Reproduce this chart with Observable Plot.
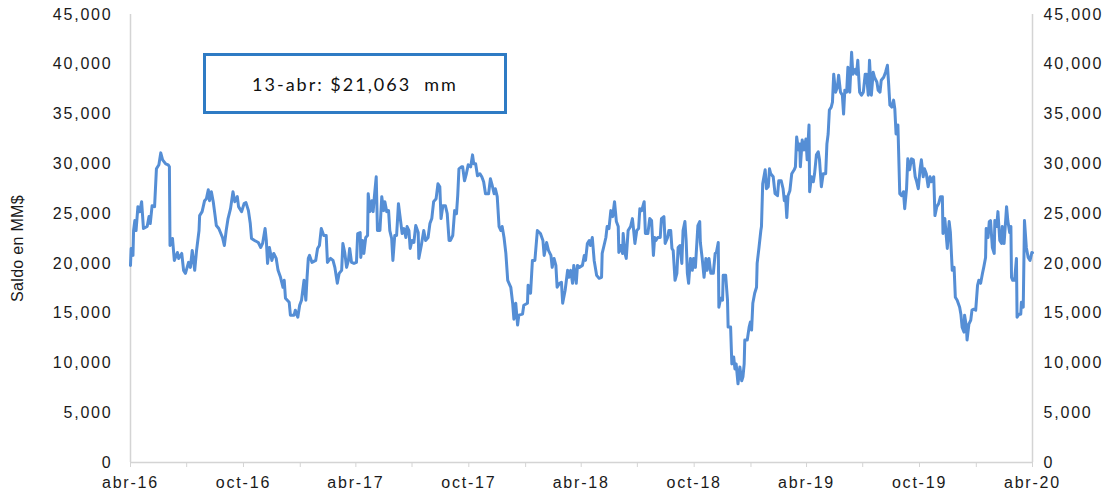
<!DOCTYPE html>
<html>
<head>
<meta charset="utf-8">
<script src="https://cdn.jsdelivr.net/npm/d3@7"></script>
<script src="https://cdn.jsdelivr.net/npm/@observablehq/plot@0.6"></script>
<style>
html, body { margin: 0; padding: 0; background: #fff; }
#wrap { position: relative; width: 1119px; height: 491px; }
#note {
  position: absolute; left: 203px; top: 53px; width: 304px; height: 61px;
  box-sizing: border-box; border: 3px solid #2E7BC4; background: #fff;
  font-family: Lato, "Open Sans", sans-serif; font-size: 18px; letter-spacing: 2px; color: #111;
  display: flex; align-items: center; justify-content: center; white-space: pre;
}
#wrap svg text { letter-spacing: 1.8px; }
#wrap svg g[aria-label="text"] text { letter-spacing: 0.3px; }
</style>
</head>
<body>
<div id="wrap"><div id="note"></div></div>
<script>
const fechas = [
"2016-04-01","2016-04-02","2016-04-05","2016-04-06","2016-04-08","2016-04-10","2016-04-13","2016-04-16","2016-04-19","2016-04-22","2016-04-28",
"2016-05-01","2016-05-03","2016-05-06","2016-05-10","2016-05-13","2016-05-17","2016-05-20","2016-05-23","2016-05-28",
"2016-06-01","2016-06-03","2016-06-04","2016-06-08","2016-06-11","2016-06-16","2016-06-18","2016-06-23","2016-06-26","2016-06-29",
"2016-07-04","2016-07-07","2016-07-10","2016-07-14","2016-07-17","2016-07-21","2016-07-22","2016-07-26","2016-07-30",
"2016-08-02","2016-08-05","2016-08-07","2016-08-10","2016-08-13","2016-08-16","2016-08-18","2016-08-22","2016-08-28","2016-08-31",
"2016-09-03","2016-09-06","2016-09-10","2016-09-14","2016-09-17","2016-09-21","2016-09-23","2016-09-28",
"2016-10-02","2016-10-05","2016-10-09","2016-10-12","2016-10-14","2016-10-19","2016-10-25","2016-10-29",
"2016-11-01","2016-11-05","2016-11-07","2016-11-09","2016-11-12","2016-11-16","2016-11-19","2016-11-23","2016-11-26","2016-11-30",
"2016-12-04","2016-12-06","2016-12-08","2016-12-14","2016-12-16","2016-12-22","2016-12-24","2016-12-28","2016-12-31",
"2017-01-03","2017-01-07","2017-01-10","2017-01-12","2017-01-14","2017-01-16","2017-01-20","2017-01-26","2017-01-29",
"2017-02-01","2017-02-04","2017-02-08","2017-02-12","2017-02-14","2017-02-19","2017-02-23","2017-02-26",
"2017-03-02","2017-03-05","2017-03-09","2017-03-11","2017-03-14","2017-03-17","2017-03-20","2017-03-22","2017-03-25","2017-03-29",
"2017-04-02","2017-04-04","2017-04-08","2017-04-09","2017-04-12","2017-04-14","2017-04-17","2017-04-20","2017-04-21","2017-04-24","2017-04-27","2017-04-29",
"2017-05-01","2017-05-04","2017-05-06","2017-05-10","2017-05-13","2017-05-16","2017-05-18","2017-05-21","2017-05-24","2017-05-26","2017-05-29","2017-05-31",
"2017-06-03","2017-06-06","2017-06-09","2017-06-11","2017-06-15","2017-06-18","2017-06-21","2017-06-23","2017-06-26","2017-06-28",
"2017-07-01","2017-07-04","2017-07-07","2017-07-11","2017-07-12","2017-07-16","2017-07-20","2017-07-23","2017-07-27","2017-07-30",
"2017-08-02","2017-08-05","2017-08-09","2017-08-12","2017-08-15","2017-08-17","2017-08-20","2017-08-24","2017-08-27","2017-08-30",
"2017-09-01","2017-09-05","2017-09-08","2017-09-11","2017-09-13","2017-09-15","2017-09-19","2017-09-21","2017-09-24","2017-09-27","2017-09-30",
"2017-10-04","2017-10-07","2017-10-09","2017-10-12","2017-10-15","2017-10-19","2017-10-22","2017-10-25","2017-10-28",
"2017-11-02","2017-11-05","2017-11-08","2017-11-11","2017-11-13","2017-11-16","2017-11-19","2017-11-22","2017-11-24","2017-11-27","2017-11-30",
"2017-12-03","2017-12-08","2017-12-11","2017-12-13","2017-12-16","2017-12-19","2017-12-21","2017-12-27","2017-12-29",
"2018-01-04","2018-01-05","2018-01-09","2018-01-12","2018-01-16","2018-01-20","2018-01-25","2018-01-29","2018-01-31",
"2018-02-04","2018-02-07","2018-02-11","2018-02-13","2018-02-16","2018-02-19","2018-02-21","2018-02-25","2018-02-28",
"2018-03-02","2018-03-06","2018-03-10","2018-03-12","2018-03-15","2018-03-18","2018-03-20","2018-03-24","2018-03-26","2018-03-29",
"2018-04-03","2018-04-06","2018-04-08","2018-04-11","2018-04-14","2018-04-16","2018-04-19","2018-04-22","2018-04-26","2018-04-30",
"2018-05-04","2018-05-05","2018-05-08","2018-05-11","2018-05-13","2018-05-16","2018-05-19","2018-05-22","2018-05-25","2018-05-28","2018-05-31",
"2018-06-01","2018-06-04","2018-06-07","2018-06-08","2018-06-11","2018-06-13","2018-06-16","2018-06-20","2018-06-23","2018-06-25","2018-06-27","2018-06-30",
"2018-07-03","2018-07-05","2018-07-08","2018-07-12","2018-07-14","2018-07-18","2018-07-21","2018-07-24","2018-07-27","2018-07-29","2018-07-31",
"2018-08-03","2018-08-07","2018-08-09","2018-08-13","2018-08-15","2018-08-19","2018-08-21","2018-08-24","2018-08-26","2018-08-28","2018-08-31",
"2018-09-03","2018-09-05","2018-09-08","2018-09-11","2018-09-13","2018-09-16","2018-09-18","2018-09-20","2018-09-22","2018-09-25","2018-09-28","2018-09-30",
"2018-10-03","2018-10-07","2018-10-10","2018-10-11","2018-10-14","2018-10-17","2018-10-20","2018-10-22","2018-10-25","2018-10-28",
"2018-11-01","2018-11-04","2018-11-06","2018-11-09","2018-11-10","2018-11-13","2018-11-16","2018-11-17","2018-11-21","2018-11-24","2018-11-25","2018-11-29",
"2018-12-01","2018-12-04","2018-12-06","2018-12-08","2018-12-11","2018-12-14","2018-12-17","2018-12-19","2018-12-21","2018-12-22","2018-12-26","2018-12-29","2018-12-31",
"2019-01-02","2019-01-04","2019-01-07","2019-01-10","2019-01-11","2019-01-14","2019-01-17","2019-01-18","2019-01-20","2019-01-24","2019-01-26","2019-01-29","2019-01-31",
"2019-02-02","2019-02-06","2019-02-09","2019-02-13","2019-02-15","2019-02-19","2019-02-22","2019-02-24","2019-02-26","2019-02-28",
"2019-03-02","2019-03-05","2019-03-08","2019-03-12","2019-03-14","2019-03-16","2019-03-19","2019-03-21","2019-03-22","2019-03-25","2019-03-28","2019-03-31",
"2019-04-02","2019-04-05","2019-04-06","2019-04-09","2019-04-12","2019-04-14","2019-04-17","2019-04-20","2019-04-22","2019-04-25","2019-04-28",
"2019-05-02","2019-05-04","2019-05-06","2019-05-08","2019-05-11","2019-05-13","2019-05-15","2019-05-18","2019-05-21","2019-05-23","2019-05-26","2019-05-29","2019-05-31",
"2019-06-02","2019-06-05","2019-06-07","2019-06-10","2019-06-13","2019-06-15","2019-06-19","2019-06-21","2019-06-23","2019-06-26","2019-06-29",
"2019-07-02","2019-07-05","2019-07-07","2019-07-10","2019-07-12","2019-07-15","2019-07-18","2019-07-20","2019-07-24","2019-07-26","2019-07-29","2019-07-31",
"2019-08-04","2019-08-07","2019-08-10","2019-08-12","2019-08-14","2019-08-17","2019-08-20","2019-08-22","2019-08-24","2019-08-27","2019-08-30",
"2019-09-02","2019-09-05","2019-09-07","2019-09-10","2019-09-12","2019-09-15","2019-09-18","2019-09-21","2019-09-24","2019-09-26","2019-09-29",
"2019-10-02","2019-10-04","2019-10-07","2019-10-09","2019-10-12","2019-10-15","2019-10-18","2019-10-20","2019-10-24","2019-10-26","2019-10-29",
"2019-11-01","2019-11-04","2019-11-07","2019-11-08","2019-11-11","2019-11-13","2019-11-15","2019-11-18","2019-11-20","2019-11-23","2019-11-26","2019-11-28",
"2019-12-01","2019-12-05","2019-12-07","2019-12-09","2019-12-12","2019-12-13","2019-12-16","2019-12-17","2019-12-20","2019-12-23","2019-12-25","2019-12-28","2019-12-31",
"2020-01-03","2020-01-05","2020-01-08","2020-01-11","2020-01-13","2020-01-16","2020-01-17","2020-01-20","2020-01-22","2020-01-24","2020-01-27","2020-01-30","2020-01-31",
"2020-02-03","2020-02-05","2020-02-08","2020-02-11","2020-02-12","2020-02-15","2020-02-19","2020-02-21","2020-02-24","2020-02-26","2020-02-27","2020-02-29",
"2020-03-03","2020-03-06","2020-03-07","2020-03-10","2020-03-13","2020-03-14","2020-03-17","2020-03-19","2020-03-22","2020-03-25","2020-03-28","2020-03-31","2020-04-01"
];
const saldo = [
19800,21500,20800,23300,24300,23300,25700,25200,26200,23500,23700,
24700,24000,25800,25700,29500,29900,31100,30400,30000,
29900,29700,21800,22500,20300,21100,20500,21000,19300,19000,
20100,19600,21300,19300,21300,23300,24800,25200,26300,
26500,27400,26300,27200,26200,24800,23800,23500,22600,21800,
23300,24500,25500,27200,26200,26700,25700,25200,
26000,26100,25300,24000,22500,22300,22100,21600,
22000,23500,22300,20000,21600,20300,21000,20500,19300,18600,
17600,18300,16500,16100,14800,14800,15300,14600,15800,
16300,18300,16300,18600,20500,20800,20100,20300,21500,
21800,23500,22800,22800,20100,20500,20300,19600,
18000,19000,19300,22000,21100,19600,20300,21500,20100,20000,
20100,23000,23100,20600,22300,21000,22600,22800,27000,25200,26300,25200,
26700,28700,23300,23300,26700,25300,26200,25200,25300,23300,22500,20300,
22800,22800,26000,25000,23000,23500,22600,23700,23300,21500,
22300,22100,23800,23100,20500,21800,23300,22300,22600,24000,
24500,26200,26500,28000,27700,24500,25800,25800,25000,22300,
22300,22800,25300,25000,26800,29500,29700,29700,28300,29000,29900,
29700,30900,30000,30000,28800,29000,28700,28200,27000,
27000,28500,27800,27000,27500,26700,23700,23300,23700,22600,21000,
18300,17600,16000,14400,16000,13800,14800,14900,15800,
16000,17800,17000,20300,20300,23300,23000,22300,20800,
22100,21300,20800,19600,20500,19800,17600,18000,18100,
16000,17300,19300,18600,19300,18000,19800,18000,19800,19600,
19800,20800,20300,22000,22300,21800,22600,20300,18800,18500,
18600,21000,21800,22600,23700,23500,25300,24700,26200,24200,23700,
21100,21800,21000,23000,21000,20500,23300,23700,24500,23300,22000,23300,
23500,25500,25300,26200,23000,23000,24500,24300,20800,22600,22300,
22600,22600,24500,24700,22000,22600,23300,23300,21500,21300,18300,
19000,21600,21800,20000,23300,24200,22300,19000,18000,20500,19300,20500,
19600,23800,24200,22100,20500,18600,20500,19300,20500,19000,
19000,21000,21100,22100,15600,16500,16300,18800,18800,16300,13600,13600,
9900,10600,9400,9900,7900,9600,8200,8600,9900,12300,12300,13600,14100,
13300,16000,17000,17600,20000,21600,23300,23700,28000,29400,27500,27700,29500,
29000,28700,27000,26800,28300,28300,27500,26300,26700,24600,
26800,27300,29000,29400,29700,32700,31400,32000,29700,32400,31400,32500,
30400,33900,27200,28700,28200,29000,30900,31200,30400,27700,29000,
29000,32000,33000,35400,35700,36200,39000,37200,37700,38900,37200,36900,35000,
37400,37200,39700,37200,41200,39000,39500,39000,40400,37200,36900,
37200,39000,39000,36900,40400,36900,39200,38700,38200,37400,37200,38400,
38700,39200,39900,38000,35900,35700,36400,35500,33000,33900,27000,
26800,27200,25500,27500,30500,29400,30500,30400,28700,28300,27500,
29500,30400,28700,29500,29000,27700,28700,28200,28700,24800,25700,
26000,26700,26700,23000,24500,23000,21500,24200,23100,19300,19600,16600,
16300,15600,14900,13600,13100,14800,13600,12300,13900,14300,15300,15400,15300,
17800,18300,18000,19000,19600,20600,23500,22600,24200,24300,21600,21000,24300,
23700,25200,22300,22000,23700,22000,25700,24300,23100,23700,18600,18300,
18300,20500,14600,14900,14900,16100,15600,24300,21600,20600,20300,21100,21063
];
const yTicks = [0,5000,10000,15000,20000,25000,30000,35000,40000,45000];
const xTicks = ["2016-04-01","2016-07-01","2016-10-01","2017-01-01","2017-04-01","2017-07-01","2017-10-01","2018-01-01","2018-04-01","2018-07-01","2018-10-01","2019-01-01","2019-04-01","2019-07-01","2019-10-01","2020-01-01","2020-04-01"];
const xTickLabels = ["abr-16","","oct-16","","abr-17","","oct-17","","abr-18","","oct-18","","abr-19","","oct-19","","abr-20"];
const yLabel = "Saldo en MM$";
const nota = "13-abr: $21,063  mm";

const data = fechas.map((f, i) => ({date: new Date(f + "T00:00:00Z"), value: saldo[i]}));
const xTickDates = xTicks.map(s => new Date(s + "T00:00:00Z"));
const labelOf = new Map(xTickDates.map((d, i) => [+d, xTickLabels[i]]));
const fmt = d3.format(",");
const axisColor = "#D4D4D4";

const chart = Plot.plot({
  width: 1119,
  height: 491,
  marginLeft: 130,
  marginRight: 87,
  marginTop: 14,
  marginBottom: 29,
  style: {fontFamily: "'Liberation Sans', Arial, sans-serif", fontSize: "16px", color: "#1a1a1a", background: "#fff"},
  x: {type: "utc", domain: [xTickDates[0], xTickDates[xTickDates.length - 1]]},
  y: {type: "linear", domain: [0, 45000]},
  marks: [
    Plot.ruleX([xTickDates[0], xTickDates[xTickDates.length - 1]], {stroke: axisColor, strokeWidth: 1.5}),
    Plot.ruleY([0], {stroke: axisColor, strokeWidth: 1.5}),
    Plot.axisX({ticks: xTickDates, tickSize: 5, stroke: axisColor, tickPadding: 9, tickFormat: d => labelOf.get(+d) ?? "", label: null}),
    Plot.axisY({anchor: "left", ticks: yTicks, tickSize: 0, tickPadding: 18, tickFormat: fmt, label: null}),
    Plot.axisY({anchor: "right", ticks: yTicks, tickSize: 0, tickPadding: 11, tickFormat: fmt, label: null}),
    Plot.text([yLabel], {text: d => d, frameAnchor: "left", rotate: -90, dx: -113, dy: 10, textAnchor: "middle", fontSize: 16}),
    Plot.line(data, {x: "date", y: "value", stroke: "#558ED5", strokeWidth: 3, strokeLinejoin: "round"})
  ]
});
const wrap = document.getElementById("wrap");
wrap.insertBefore(chart, wrap.firstChild);
document.getElementById("note").textContent = nota;
</script>
</body>
</html>
